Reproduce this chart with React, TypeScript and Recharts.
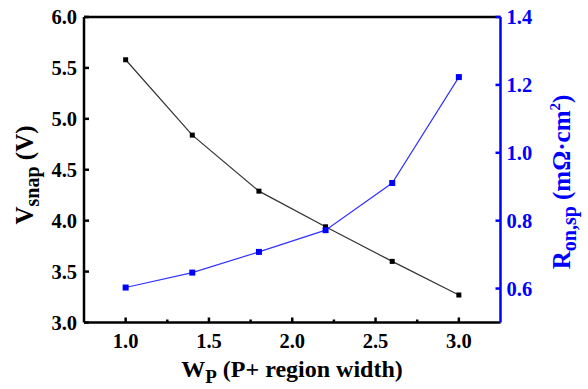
import { LineChart, Line, XAxis, YAxis, ReferenceLine, Label } from "recharts";

const widths = [1.0, 1.4, 1.8, 2.2, 2.6, 3.0];
const vsnap = [5.58, 4.84, 4.29, 3.94, 3.6, 3.27];
const ronsp = [0.603, 0.647, 0.708, 0.772, 0.911, 1.223];

const xTicks = [1.0, 1.25, 1.5, 1.75, 2.0, 2.25, 2.5, 2.75, 3.0];
const xLabelTicks = [1.0, 1.5, 2.0, 2.5, 3.0];
const leftTicks = [3.0, 3.5, 4.0, 4.5, 5.0, 5.5, 6.0];
const rightTicks = [0.6, 0.8, 1.0, 1.2, 1.4];

const data = widths.map((w, i) => ({ w, vsnap: vsnap[i], ronsp: ronsp[i] }));

const FONT = "'Liberation Serif', 'Times New Roman', serif";
const BLUE = "#0000ff";
const txt = { fontFamily: FONT, fontWeight: 700 };

const LeftTick = ({ x, y, payload }: any) => (
  <g>
    <line x1={x} x2={x + 5} y1={y} y2={y} stroke="#000" strokeWidth={2.5} />
    <text x={x - 7} y={y} textAnchor="end" dominantBaseline="central"
      style={txt} fontSize={20.5} fill="#000">
      {payload.value.toFixed(1)}
    </text>
  </g>
);

const RightTick = ({ x, y, payload }: any) => (
  <g>
    <line x1={x} x2={x - 5} y1={y} y2={y} stroke={BLUE} strokeWidth={2.5} />
    <text x={x + 6} y={y} textAnchor="start" dominantBaseline="central"
      style={txt} fontSize={20.5} fill={BLUE}>
      {payload.value.toFixed(1)}
    </text>
  </g>
);

const BottomTick = ({ x, y, payload }: any) => {
  const major = xLabelTicks.includes(payload.value);
  return (
    <g>
      <line x1={x} x2={x} y1={y} y2={y - (major ? 5 : 3)} stroke="#000" strokeWidth={2.5} />
      {major && (
        <text x={x} y={y + 25} textAnchor="middle"
          style={txt} fontSize={20.5} fill="#000">
          {payload.value.toFixed(1)}
        </text>
      )}
    </g>
  );
};

const LeftTitle = () => (
  <text transform="translate(33,175) rotate(-90)" textAnchor="middle"
    style={txt} fontSize={25} fill="#000">
    V<tspan dy={6} fontSize={20}>snap</tspan><tspan dy={-6}> (V)</tspan>
  </text>
);

const RightTitle = () => (
  <text transform="translate(570,182) rotate(-90)" textAnchor="middle"
    style={txt} fontSize={25} fill={BLUE}>
    R<tspan dy={6} fontSize={20}>on,sp</tspan>
    <tspan dy={-6}> (mΩ·cm</tspan>
    <tspan dy={-10} fontSize={15}>2</tspan>
    <tspan dy={10}>)</tspan>
  </text>
);

const BottomTitle = () => (
  <text x={292} y={377} textAnchor="middle"
    style={txt} fontSize={24} fill="#000">
    W<tspan dy={6} fontSize={19}>P</tspan><tspan dy={-6}> (P+ region width)</tspan>
  </text>
);

const square = (color: string, size: number) => (p: any) => (
  <rect key={`d-${color}-${p.index}`} x={p.cx - size / 2} y={p.cy - size / 2}
    width={size} height={size} fill={color} />
);

export default function App() {
  return (
    <div style={{ position: "absolute", left: 0, top: 0, width: 588, height: 389, background: "#fff" }}>
      <LineChart width={588} height={389} data={data}
        margin={{ top: 17, right: 0, bottom: 0, left: 0 }}>
        <XAxis type="number" dataKey="w" domain={[0.75, 3.25]} ticks={xTicks}
          allowDataOverflow height={66.5} tickSize={0} tickMargin={0} tickLine={false}
          axisLine={{ stroke: "#000", strokeWidth: 2.5 }} tick={<BottomTick />} interval={0}>
          <Label content={BottomTitle} />
        </XAxis>
        <YAxis yAxisId="left" orientation="left" domain={[3, 6]} ticks={leftTicks}
          width={84} tickSize={0} tickMargin={0} tickLine={false} interval={0}
          axisLine={{ stroke: "#000", strokeWidth: 2.5 }} tick={<LeftTick />}>
          <Label content={LeftTitle} />
        </YAxis>
        <YAxis yAxisId="right" orientation="right" domain={[0.5, 1.4]} ticks={rightTicks}
          width={87.5} tickSize={0} tickMargin={0} tickLine={false} interval={0}
          axisLine={{ stroke: BLUE, strokeWidth: 2.5 }} tick={<RightTick />}>
          <Label content={RightTitle} />
        </YAxis>
        <ReferenceLine yAxisId="left" y={6} stroke="#000" strokeWidth={2.5} />
        <Line yAxisId="left" type="linear" dataKey="vsnap" stroke="#333"
          strokeWidth={1.2} dot={square("#000", 5)} activeDot={false} isAnimationActive={false} />
        <Line yAxisId="right" type="linear" dataKey="ronsp" stroke="#3333ff"
          strokeWidth={1.2} dot={square(BLUE, 6)} activeDot={false} isAnimationActive={false} />
      </LineChart>
    </div>
  );
}
